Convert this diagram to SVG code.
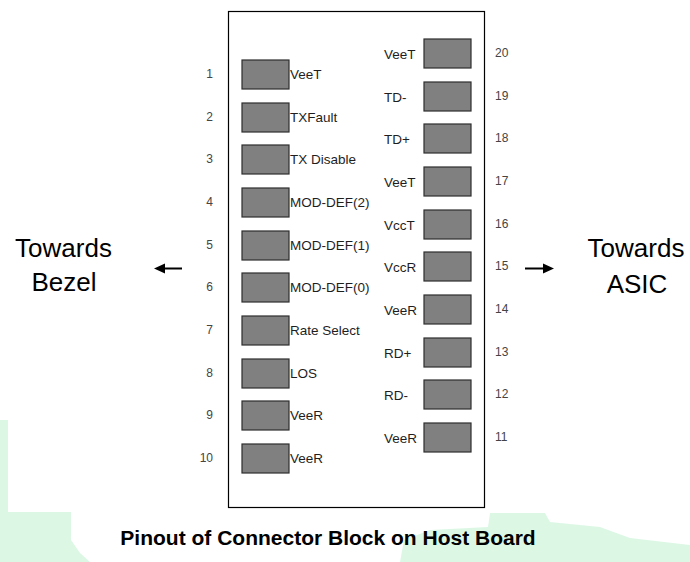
<svg xmlns="http://www.w3.org/2000/svg" width="690" height="562" viewBox="0 0 690 562">
<style>
.pad{fill:#808080;stroke:#2e2e2e;stroke-width:1.2}
.lbl{font-family:"Liberation Sans",Arial,sans-serif;font-size:13.5px;fill:#1e1e1e}
.num{font-family:"Liberation Sans",Arial,sans-serif;font-size:12px;fill:#444}
.big{font-family:"Liberation Sans",Arial,sans-serif;font-size:26px;fill:#000;text-anchor:middle}
.cap{font-family:"Liberation Sans",Arial,sans-serif;font-size:21px;font-weight:bold;fill:#000;text-anchor:middle}
.arr{stroke:#000;stroke-width:2}
</style>
<rect width="690" height="562" fill="#fff"/>
<g id="background">
<polygon points="0,420 8,420 8,512 71,512 71,540 80,553 90,562 0,562" fill="#dcf8e5"/>
<polygon points="400,562 404,540 430,530 488,527 490,513 545,513 550,522 600,527 630,538 690,545 690,562" fill="#dcf8e5"/>
</g>
<g id="block"><rect x="228.5" y="11.5" width="256" height="496" fill="none" stroke="#000" stroke-width="1.2"/></g>
<g id="pin1"><rect class="pad" x="242" y="60" width="47" height="29"/><text class="num" x="213" y="78" text-anchor="end">1</text><text class="lbl" x="290" y="78.5">VeeT</text></g>
<g id="pin2"><rect class="pad" x="242" y="103" width="47" height="29"/><text class="num" x="213" y="121" text-anchor="end">2</text><text class="lbl" x="290" y="121.5">TXFault</text></g>
<g id="pin3"><rect class="pad" x="242" y="145" width="47" height="29"/><text class="num" x="213" y="163" text-anchor="end">3</text><text class="lbl" x="290" y="163.5">TX Disable</text></g>
<g id="pin4"><rect class="pad" x="242" y="188" width="47" height="29"/><text class="num" x="213" y="206" text-anchor="end">4</text><text class="lbl" x="290" y="206.5">MOD-DEF(2)</text></g>
<g id="pin5"><rect class="pad" x="242" y="231" width="47" height="29"/><text class="num" x="213" y="249" text-anchor="end">5</text><text class="lbl" x="290" y="249.5">MOD-DEF(1)</text></g>
<g id="pin6"><rect class="pad" x="242" y="273" width="47" height="29"/><text class="num" x="213" y="291" text-anchor="end">6</text><text class="lbl" x="290" y="291.5">MOD-DEF(0)</text></g>
<g id="pin7"><rect class="pad" x="242" y="316" width="47" height="29"/><text class="num" x="213" y="334" text-anchor="end">7</text><text class="lbl" x="290" y="334.5">Rate Select</text></g>
<g id="pin8"><rect class="pad" x="242" y="359" width="47" height="29"/><text class="num" x="213" y="377" text-anchor="end">8</text><text class="lbl" x="290" y="377.5">LOS</text></g>
<g id="pin9"><rect class="pad" x="242" y="401" width="47" height="29"/><text class="num" x="213" y="419" text-anchor="end">9</text><text class="lbl" x="290" y="419.5">VeeR</text></g>
<g id="pin10"><rect class="pad" x="242" y="444" width="47" height="29"/><text class="num" x="213" y="462" text-anchor="end">10</text><text class="lbl" x="290" y="462.5">VeeR</text></g>
<g id="pin20"><rect class="pad" x="424" y="39" width="47" height="29"/><text class="lbl" x="384" y="58.5">VeeT</text><text class="num" x="495" y="57">20</text></g>
<g id="pin19"><rect class="pad" x="424" y="82" width="47" height="29"/><text class="lbl" x="384" y="101.5">TD-</text><text class="num" x="495" y="100">19</text></g>
<g id="pin18"><rect class="pad" x="424" y="124" width="47" height="29"/><text class="lbl" x="384" y="143.5">TD+</text><text class="num" x="495" y="142">18</text></g>
<g id="pin17"><rect class="pad" x="424" y="167" width="47" height="29"/><text class="lbl" x="384" y="186.5">VeeT</text><text class="num" x="495" y="185">17</text></g>
<g id="pin16"><rect class="pad" x="424" y="210" width="47" height="29"/><text class="lbl" x="384" y="229.5">VccT</text><text class="num" x="495" y="228">16</text></g>
<g id="pin15"><rect class="pad" x="424" y="252" width="47" height="29"/><text class="lbl" x="384" y="271.5">VccR</text><text class="num" x="495" y="270">15</text></g>
<g id="pin14"><rect class="pad" x="424" y="295" width="47" height="29"/><text class="lbl" x="384" y="314.5">VeeR</text><text class="num" x="495" y="313">14</text></g>
<g id="pin13"><rect class="pad" x="424" y="338" width="47" height="29"/><text class="lbl" x="384" y="357.5">RD+</text><text class="num" x="495" y="356">13</text></g>
<g id="pin12"><rect class="pad" x="424" y="380" width="47" height="29"/><text class="lbl" x="384" y="399.5">RD-</text><text class="num" x="495" y="398">12</text></g>
<g id="pin11"><rect class="pad" x="424" y="423" width="47" height="29"/><text class="lbl" x="384" y="442.5">VeeR</text><text class="num" x="495" y="441">11</text></g>
<g id="bezel"><text class="big" x="63.5" y="256.5">Towards</text><text class="big" x="64" y="291">Bezel</text></g>
<g id="asic"><text class="big" x="636" y="257">Towards</text><text class="big" x="637" y="293">ASIC</text></g>
<g id="connectors">
<line class="arr" x1="182" y1="268.5" x2="162" y2="268.5"/>
<polygon points="154,268.5 165,263.5 165,273.5" fill="#000"/>
<line class="arr" x1="525" y1="268.5" x2="546" y2="268.5"/>
<polygon points="554,268.5 543,263.5 543,273.5" fill="#000"/>
</g>
<g id="caption"><text class="cap" x="328" y="545">Pinout of Connector Block on Host Board</text></g>
</svg>
